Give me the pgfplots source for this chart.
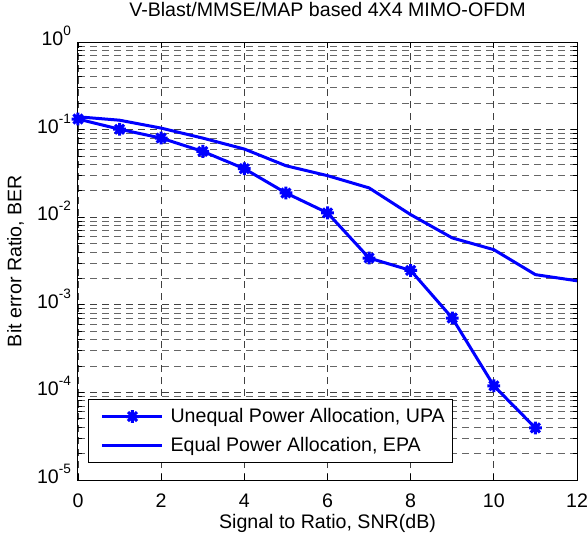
\documentclass[border=0pt]{standalone}
\usepackage{fontspec}
\setmainfont{Liberation Sans}
\usepackage{pgfplots}
\pgfplotsset{compat=1.18}
\usetikzlibrary{calc}
\definecolor{mblue}{RGB}{0,0,255}

% matlab style '*' marker: plus and cross together
\pgfdeclareplotmark{mstar}{%
  \pgfpathmoveto{\pgfqpoint{0pt}{\pgfplotmarksize}}%
  \pgfpathlineto{\pgfqpoint{0pt}{-\pgfplotmarksize}}%
  \pgfpathmoveto{\pgfqpoint{\pgfplotmarksize}{0pt}}%
  \pgfpathlineto{\pgfqpoint{-\pgfplotmarksize}{0pt}}%
  \pgfpathmoveto{\pgfqpoint{0.707\pgfplotmarksize}{0.707\pgfplotmarksize}}%
  \pgfpathlineto{\pgfqpoint{-0.707\pgfplotmarksize}{-0.707\pgfplotmarksize}}%
  \pgfpathmoveto{\pgfqpoint{0.707\pgfplotmarksize}{-0.707\pgfplotmarksize}}%
  \pgfpathlineto{\pgfqpoint{-0.707\pgfplotmarksize}{0.707\pgfplotmarksize}}%
  \pgfusepathqstroke}

\newcommand{\dec}[1]{10\raisebox{5pt}{\fontsize{6.8}{7}\selectfont #1}}

\begin{document}
\begin{tikzpicture}
\begin{axis}[
  scale only axis, width=249.5pt, height=219pt,
  xmin=0, xmax=12, ymin=1e-5, ymax=1, ymode=log,
  xtick={0,2,...,12},
  ytick={1e-5,1e-4,1e-3,1e-2,1e-1,1},
  yticklabels={\dec{-5},\dec{-4},\dec{-3},\dec{-2},\dec{-1},\dec{0}},
  /pgf/number format/assume math mode=true,
  tick label style={font=\fontsize{9.8}{11}\selectfont},
  xticklabel style={yshift=-3.5pt},
  yticklabel style={yshift=3pt},
  label style={font=\fontsize{9.8}{11}\selectfont},
  tick align=inside, major tick length=3pt, minor tick length=1.8pt,
  tick style={black, line width=0.4pt},
  axis line style={black, line width=0.5pt},
  grid=both,
  major grid style={black!75, line width=0.4pt, dash pattern=on 3.5pt off 2.5pt},
  minor grid style={black!60, line width=0.4pt, dash pattern=on 3.5pt off 2.5pt},
  title={V-Blast/MMSE/MAP based 4X4 MIMO-OFDM},
  title style={font=\fontsize{9.8}{11}\selectfont, anchor=base, at={(axis description cs:0.5,1)}, yshift=7pt},
  xlabel={Signal to Ratio, SNR(dB)},
  xlabel style={anchor=base, at={(axis description cs:0.5,0)}, yshift=-24.3pt},
  ylabel={Bit error Ratio, BER},
  ylabel style={anchor=base, at={(axis description cs:-0.1136,0.5)}},
  legend image code/.code={\draw[mark repeat=2,mark phase=2,#1] plot coordinates {(0pt,0pt) (15pt,0pt) (30pt,0pt)};},
  legend cell align=left,
  legend style={at={(axis description cs:0.021,0.0377)}, anchor=south west,
    draw=black, line width=0.5pt, fill=white,
    inner xsep=6pt, inner ysep=1.3pt, column sep=3.3pt, row sep=0pt,
    nodes={inner sep=0pt, minimum height=14.6pt, font=\fontsize{9.8}{11}\selectfont}},
]
\addplot[mblue, line width=1.5pt, mark=mstar, mark size=3.2pt, mark options={solid, line width=1.5pt}] coordinates {
  (0,0.132) (1,0.101) (2,0.080) (3,0.0564) (4,0.0358) (5,0.0189) (6,0.0112)
  (7,0.00342) (8,0.00247) (9,0.000706) (10,0.000119) (11,0.0000393)
};
\addlegendentry{\makebox[135pt][l]{Unequal Power Allocation, UPA}}
\addplot[mblue, line width=1.5pt] coordinates {
  (0,0.140) (1,0.128) (2,0.104) (3,0.080) (4,0.060) (5,0.0387) (6,0.0298)
  (7,0.0216) (8,0.0107) (9,0.0058) (10,0.00426) (11,0.00221) (12,0.00188)
};
\addlegendentry{\makebox[135pt][l]{Equal Power Allocation, EPA}}
\coordinate (sw) at (rel axis cs:0,0);
\coordinate (ne) at (rel axis cs:1,1);
\end{axis}
\pgfresetboundingbox
\path[use as bounding box] ($(sw)+(-39pt,-27.5pt)$) rectangle ($(ne)+(5.5pt,21pt)$);
\end{tikzpicture}
\end{document}
